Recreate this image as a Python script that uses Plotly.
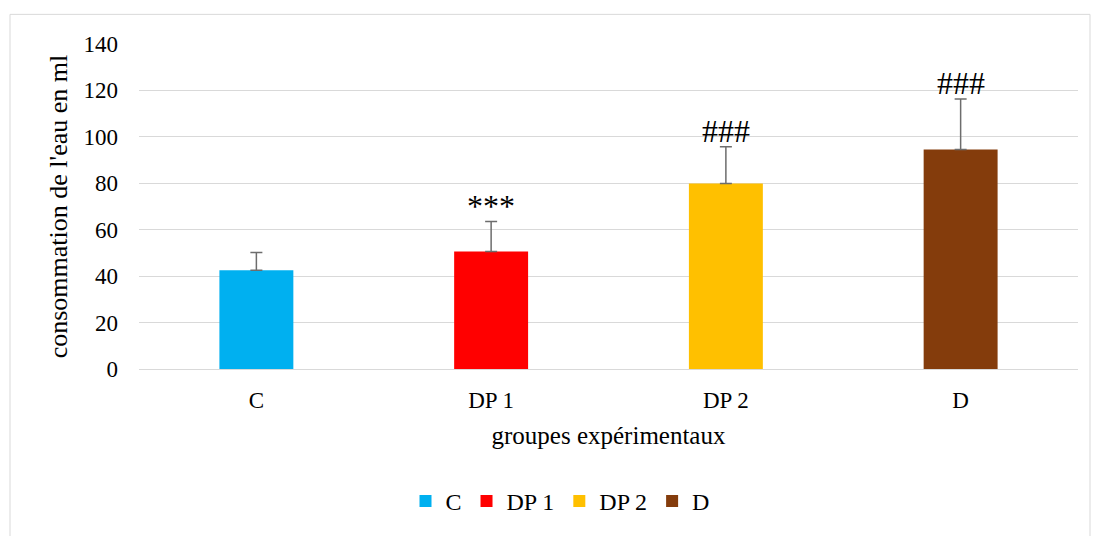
import plotly.graph_objects as go

groups = ["C", "DP 1", "DP 2", "D"]
consumption = [42.5, 50.6, 79.9, 94.6]
sd = [7.7, 12.9, 15.8, 21.7]
signif = ["", "***", "###", "###"]
colors = ["#00B0F0", "#FF0000", "#FFC000", "#843C0C"]

W, H = 1093, 536
L, R, T, B = 139, 15, 44, 163
pw, ph = W - L - R, H - T - B


def px_x(px):
    return (px - L) / pw


def px_y(py):
    return (H - B - py) / ph


fig = go.Figure()
for g, v, e, c in zip(groups, consumption, sd, colors):
    fig.add_trace(go.Bar(
        x=[g], y=[v], name=g, marker=dict(color=c, line=dict(width=0)),
        error_y=dict(type="data", array=[e], visible=True, symmetric=False,
                     arrayminus=[0], color="#6d6d6d", thickness=1.5, width=6),
        width=0.315,
    ))

for g, v, e, s in zip(groups, consumption, sd, signif):
    if s:
        fig.add_annotation(x=g, y=v + e, text=s, showarrow=False,
                           yanchor="bottom", yshift=-4,
                           font=dict(family="Liberation Serif", size=32, color="#000"))

# outer chart frame
fig.add_shape(type="rect", xref="paper", yref="paper",
              x0=px_x(10), x1=px_x(1090), y0=px_y(560), y1=px_y(14),
              line=dict(color="#d9d9d9", width=1), fillcolor="rgba(0,0,0,0)")

fig.update_layout(
    width=W, height=H,
    margin=dict(l=L, r=R, t=T, b=B),
    plot_bgcolor="white", paper_bgcolor="white",
    barmode="overlay",
    font=dict(family="Liberation Serif", size=23, color="#000"),
    showlegend=True,
    legend=dict(orientation="h", x=px_x(560), xanchor="center", y=px_y(507), yanchor="middle",
                font=dict(size=24), itemwidth=30, traceorder="normal"),
    xaxis=dict(showgrid=False, showline=True, linecolor="#d9d9d9", linewidth=1,
               ticks="", tickfont=dict(size=23), ticklabelstandoff=10,
               title=dict(text="groupes expérimentaux", font=dict(size=25), standoff=14)),
    yaxis=dict(range=[0, 140], dtick=20, showgrid=True, gridcolor="#d9d9d9",
               gridwidth=1, zeroline=False, showline=False, ticks="",
               ticklabelstandoff=20, tickfont=dict(size=23),
               title=dict(text="consommation de l'eau en ml", font=dict(size=26), standoff=8)),
)

fig.write_html("out.html")
